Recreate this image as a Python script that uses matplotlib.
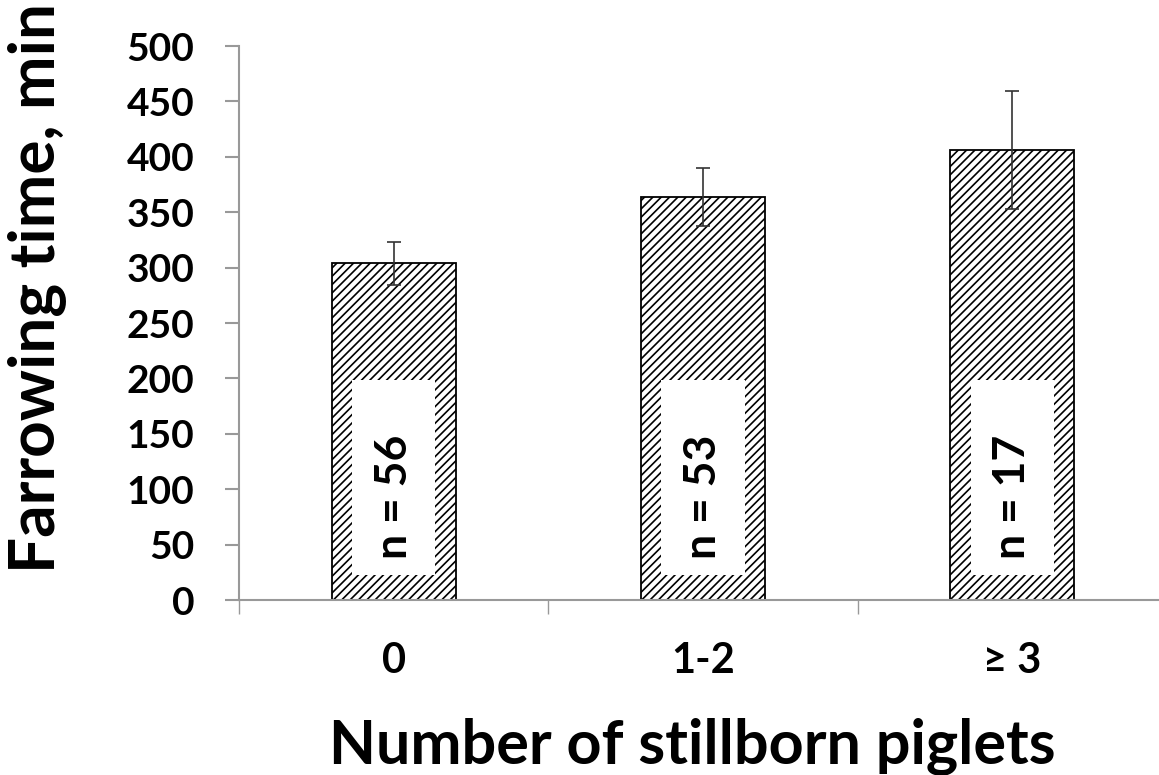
import matplotlib
matplotlib.use("Agg")
import matplotlib.pyplot as plt
from matplotlib.patches import Rectangle

# Farrowing duration by number of stillborn piglets
categories = ["0", "1-2", "\u2265 3"]
means = [304, 364, 406]
errors = [19.5, 26, 53]
n_sows = [56, 53, 17]
yticks = [0, 50, 100, 150, 200, 250, 300, 350, 400, 450, 500]

plt.rcParams["hatch.linewidth"] = 1.2
plt.rcParams["hatch.color"] = "black"

fig = plt.figure(figsize=(11.59, 7.75), dpi=100)
ax = fig.add_axes([0.2062, 0.2258, 0.8007, 0.7148])

x = list(range(len(categories)))
ax.bar(x, means, width=0.40, color="white", edgecolor="black",
       linewidth=1.3, hatch="////", zorder=2)
ax.errorbar(x, means, yerr=errors, fmt="none", ecolor="#333333",
            elinewidth=1.2, capsize=5, capthick=1.2, zorder=4)

# white label panels inside each bar with the sample size
for xi, n in zip(x, n_sows):
    ax.add_patch(Rectangle((xi - 0.135, 23), 0.27, 176, facecolor="white",
                           edgecolor="none", zorder=3))
    ax.text(xi, 93, f"n = {n}", rotation=90, ha="center", va="center",
            fontsize=32, fontweight="bold", family="Lato", zorder=5)

ax.set_xlim(-0.5, 2.5)
ax.set_ylim(0, 500)

ax.set_yticks(yticks)
ax.set_yticklabels([str(v) for v in yticks], fontsize=28,
                   fontweight="bold", family="Lato")
ax.set_xticks(x)
ax.set_xticklabels(categories, fontsize=30, fontweight="bold", family="Lato")
ax.tick_params(axis="x", length=0, pad=30)
ax.set_xticks([-0.5, 0.5, 1.5, 2.5], minor=True)
ax.tick_params(axis="x", which="minor", length=10, width=1.0, color="#999999",
               direction="out")
ax.tick_params(axis="y", length=10, width=1.5, color="#999999",
               direction="out", pad=22)

for side in ("top", "right"):
    ax.spines[side].set_visible(False)
for side in ("left", "bottom"):
    ax.spines[side].set_color("#999999")
    ax.spines[side].set_linewidth(1.5)

ax.set_ylabel("Farrowing time, min", fontsize=46, fontweight="bold",
              family="Lato", va="center")
ax.yaxis.set_label_coords(-0.2177, 0.564)
ax.set_xlabel("Number of stillborn piglets", fontsize=44, fontweight="bold",
              family="Lato", va="baseline")
ax.xaxis.set_label_coords(0.488, -0.294)

fig.savefig("out.png", dpi=100)
